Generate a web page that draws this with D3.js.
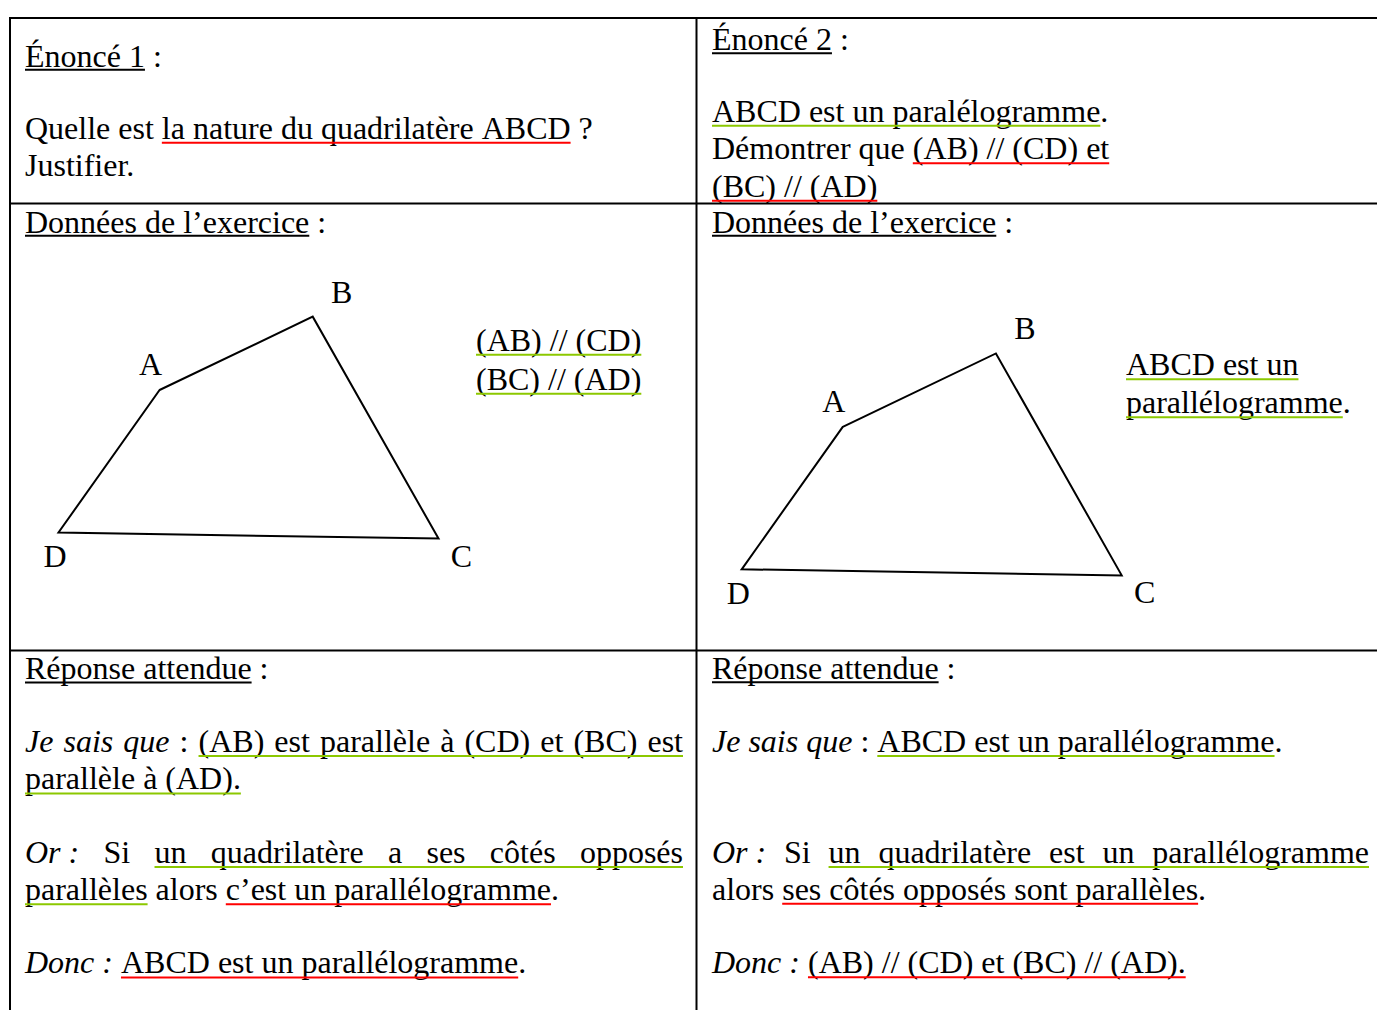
<!DOCTYPE html>
<html><head><meta charset="utf-8">
<script src="https://cdn.jsdelivr.net/npm/d3@7"></script>
<style>html,body{margin:0;padding:0;background:#fff;overflow:hidden}</style>
</head><body>
<svg id="c" width="1377" height="1010"></svg>
<script>
// ---------- DATA ----------
// Text runs: [text, italic (0/1), underline colour key or null]
const textE1 = [
  [["Énoncé 1",0,"black"],[" :",0,null]],
  [["Quelle est ",0,null],["la nature du quadrilatère ABCD",0,"red"],[" ?",0,null]],
  [["Justifier.",0,null]]
];
const textE2 = [
  [["Énoncé 2",0,"black"],[" :",0,null]],
  [["ABCD est un paralélogramme",0,"green"],[".",0,null]],
  [["Démontrer que ",0,null],["(AB) // (CD) et",0,"red"]],
  [["(BC) // (AD)",0,"red"]]
];
const textHeader = [[["Données de l’exercice",0,"black"],[" :",0,null]]];
const textGiven1 = [[["(AB) // (CD)",0,"green"]],[["(BC) // (AD)",0,"green"]]];
const textGiven2 = [[["ABCD est un",0,"green"]],[["parallélogramme",0,"green"],[".",0,null]]];
const textR1 = [
  [["Réponse attendue",0,"black"],[" :",0,null]],
  [["Je sais que",1,null],[" : ",0,null],["(AB) est parallèle à (CD) et (BC) est",0,"green"]],
  [["parallèle à (AD).",0,"green"]],
  [["Or\u00a0:",1,null],[" Si ",0,null],["un quadrilatère a ses côtés opposés",0,"green"]],
  [["parallèles",0,"green"],[" alors ",0,null],["c’est un parallélogramme",0,"red"],[".",0,null]],
  [["Donc\u00a0:",1,null],[" ",0,null],["ABCD est un parallélogramme",0,"red"],[".",0,null]]
];
const textR2 = [
  [["Réponse attendue",0,"black"],[" :",0,null]],
  [["Je sais que",1,null],[" : ",0,null],["ABCD est un parallélogramme",0,"green"],[".",0,null]],
  [["Or\u00a0:",1,null],[" Si ",0,null],["un quadrilatère est un parallélogramme",0,"green"]],
  [["alors ",0,null],["ses côtés opposés sont parallèles",0,"red"],[".",0,null]],
  [["Donc\u00a0:",1,null],[" ",0,null],["(AB) // (CD) et (BC) // (AD).",0,"red"]]
];
// Quadrilateral ABCD in figure units (origin at D, y upward)
const vertexNames = ["A","B","C","D"];
const vertexX = [2.66, 6.69, 10.0, 0];
const vertexY = [3.75, 5.68, -0.16, 0];

// ---------- LAYOUT / STYLE ----------
const FONT = "'Liberation Serif','Times New Roman',serif";
const FS = 32;
const COL = {black:"#000", red:"#ff0000", green:"#8cc800"};
const blocks = [
  {text:textE1, x:25, ys:[66.5,138.5,176]},
  {text:textE2, x:712, ys:[50,121.5,159,196.5]},
  {text:textHeader, x:25, ys:[232.5]},
  {text:textHeader, x:712, ys:[232.5]},
  {text:textGiven1, x:476, ys:[350.5,389.5]},
  {text:textGiven2, x:1126, ys:[375,413]},
  {text:textR1, x:25, ys:[679.3,751.7,789.3,862.7,900,973.3], justify:{1:658,3:658}},
  {text:textR2, x:712, ys:[679,751.7,862.7,899.5,973], justify:{2:657}}
];
const figures = [{dx:58.5, dy:532.5}, {dx:741.7, dy:569.3}];
const labelOffsets = {A:[-9,-15], B:[29,-14], C:[23,28], D:[-3.5,34.5]};

const svg = d3.select("#c");
svg.append("rect").attr("width",1377).attr("height",1010).attr("fill","#fff");

// table grid
const grid = svg.append("g").attr("stroke","#000").attr("stroke-width",2);
[[9,18,1377,18],[9,203.5,1377,203.5],[9,650.5,1377,650.5],[10,17,10,1010],[696.5,17,696.5,1010]]
  .forEach(l=>grid.append("line").attr("x1",l[0]).attr("y1",l[1]).attr("x2",l[2]).attr("y2",l[3]));

// measurement helper
const meas = svg.append("text").attr("font-family",FONT).attr("font-size",FS).attr("x",-2000).attr("y",-2000);
function tw(s,it){ meas.attr("font-style",it?"italic":"normal").text(s); return meas.node().getComputedTextLength(); }
const spW = [tw("n n",0)-tw("nn",0), tw("n n",1)-tw("nn",1)];

function renderLine(g, x, y, runs, justify){
  const toks=[];
  runs.forEach(([t,it,ul],ri)=>{
    t.split(/( )/).forEach(s=>{ if(s!=="") toks.push({s,it,ul,ri,sp:s===" "}); });
  });
  toks.forEach(t=>t.w = t.sp ? spW[t.it] : tw(t.s,t.it));
  let extra=0;
  if(justify){
    const nat=d3.sum(toks,t=>t.w), n=toks.filter(t=>t.sp).length;
    if(n) extra=(justify-nat)/n;
  }
  let cx=x;
  toks.forEach(t=>{ if(t.sp) t.w+=extra; t.x=cx; cx+=t.w; });
  g.selectAll(null).data(toks.filter(t=>!t.sp)).join("text")
    .attr("x",t=>t.x).attr("y",y)
    .attr("font-family",FONT).attr("font-size",FS)
    .attr("font-style",t=>t.it?"italic":"normal")
    .attr("fill","#000").text(t=>t.s);
  // underlines per run
  const segs = d3.groups(toks.filter(t=>t.ul), t=>t.ri).map(([ri,ts])=>{
    return {x1:ts[0].x, x2:ts[ts.length-1].x+ts[ts.length-1].w, ul:ts[0].ul};
  });
  g.selectAll(null).data(segs).join("line")
    .attr("x1",d=>d.x1).attr("x2",d=>d.x2)
    .attr("y1",d=>y+(d.ul==="black"?3.2:4.3)).attr("y2",d=>y+(d.ul==="black"?3.2:4.3))
    .attr("stroke",d=>COL[d.ul]).attr("stroke-width",2);
}

const tg = svg.append("g");
blocks.forEach(b=>{
  b.text.forEach((runs,i)=>renderLine(tg, b.x, b.ys[i], runs, b.justify ? b.justify[i] : null));
});

// figures
const unit = 38;
figures.forEach(f=>{
  const sx = d3.scaleLinear().domain([0,10]).range([f.dx, f.dx+10*unit]);
  const sy = d3.scaleLinear().domain([0,5]).range([f.dy, f.dy-5*unit]);
  const pts = vertexNames.map((n,i)=>({n, x:sx(vertexX[i]), y:sy(vertexY[i])}));
  const g = svg.append("g");
  g.append("path")
    .attr("d", d3.line().x(d=>d.x).y(d=>d.y).curve(d3.curveLinearClosed)(pts))
    .attr("fill","none").attr("stroke","#000").attr("stroke-width",2).attr("stroke-linejoin","miter");
  g.selectAll("text").data(pts).join("text")
    .attr("x",d=>d.x+labelOffsets[d.n][0]).attr("y",d=>d.y+labelOffsets[d.n][1])
    .attr("text-anchor","middle").attr("font-family",FONT).attr("font-size",FS)
    .text(d=>d.n);
});
meas.remove();
</script>
</body></html>
